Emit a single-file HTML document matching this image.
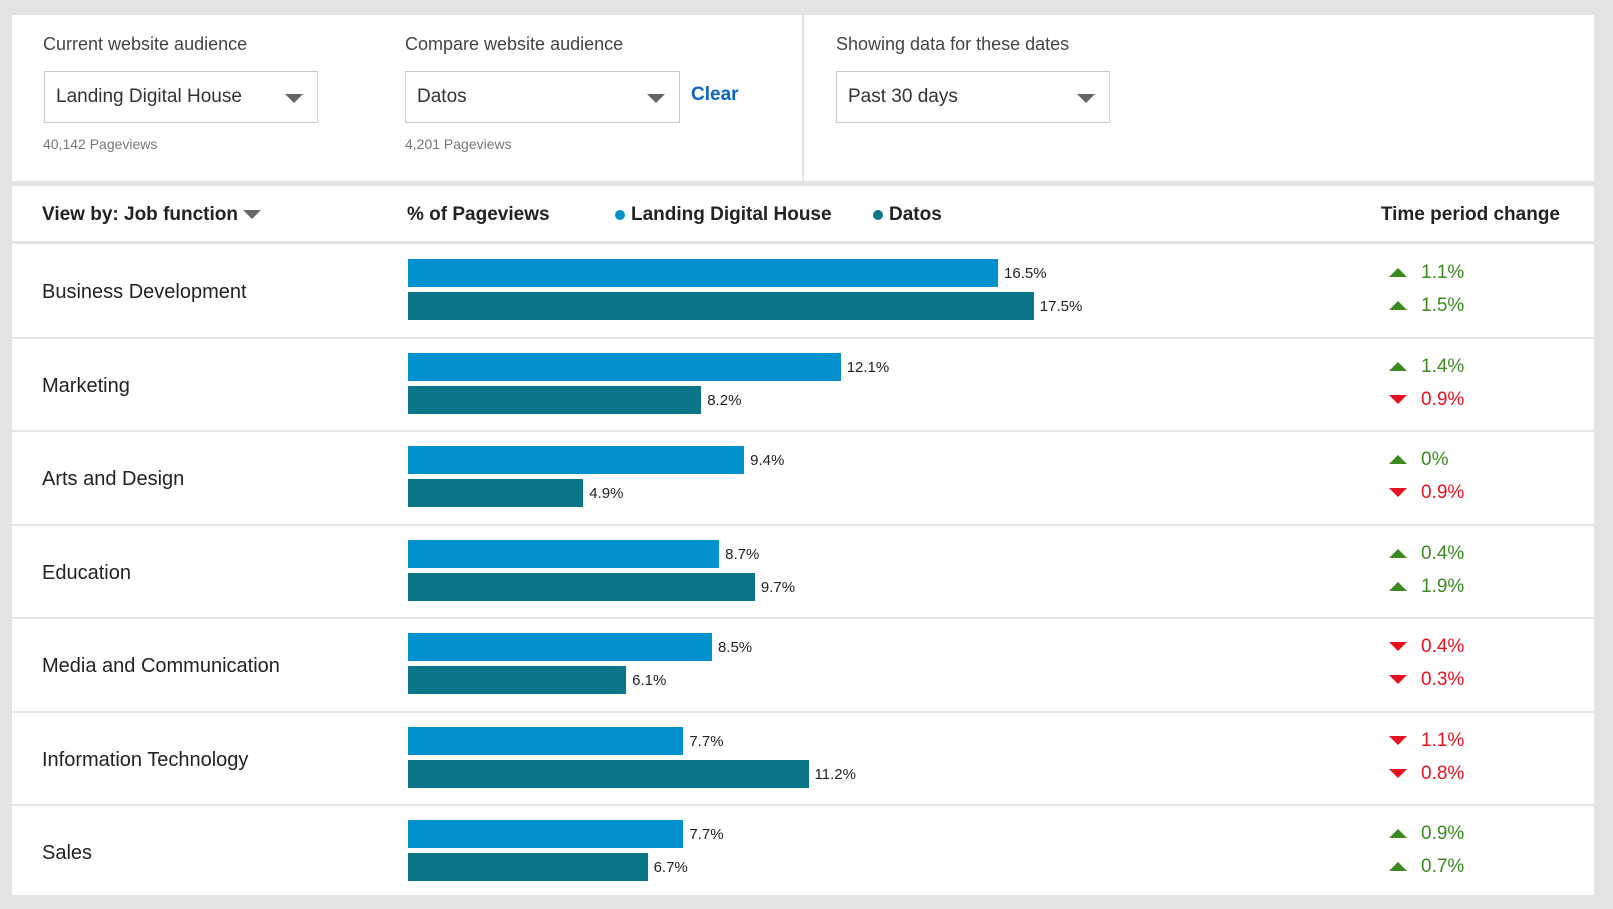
<!DOCTYPE html>
<html><head><meta charset="utf-8">
<style>
body{margin:0;width:1613px;height:909px;background:#e3e3e3;font-family:"Liberation Sans",sans-serif;position:relative;overflow:hidden;color:#222}
.p{position:absolute;background:#fff}
.a{position:absolute;white-space:nowrap}
.dd{position:absolute;border:1px solid #c8c8c8;background:#fff;height:52px;box-sizing:border-box}
.dd span{position:absolute;left:11px;top:14px;font-size:19px;color:#333}
.tri{position:absolute;width:0;height:0;border-left:9px solid transparent;border-right:9px solid transparent;border-top:9px solid #666}
.lbl{font-size:18px;color:#444}
.pv{font-size:14px;color:#777}
</style></head><body>
<div class="p" style="left:12px;top:15px;width:1582px;height:166px"></div>
<div class="a" style="left:802px;top:15px;width:2px;height:166px;background:#e3e3e3"></div>
<div class="a lbl" style="left:43px;top:34px">Current website audience</div>
<div class="dd" style="left:44px;top:71px;width:274px"><span>Landing Digital House</span><div class="tri" style="left:240px;top:22px"></div></div>
<div class="a pv" style="left:43px;top:136px">40,142 Pageviews</div>
<div class="a lbl" style="left:405px;top:34px">Compare website audience</div>
<div class="dd" style="left:405px;top:71px;width:275px"><span>Datos</span><div class="tri" style="left:241px;top:22px"></div></div>
<div class="a" style="left:691px;top:84px;font-size:19px;color:#0a66c2;font-weight:bold">Clear</div>
<div class="a pv" style="left:405px;top:136px">4,201 Pageviews</div>
<div class="a lbl" style="left:836px;top:34px">Showing data for these dates</div>
<div class="dd" style="left:836px;top:71px;width:274px"><span>Past 30 days</span><div class="tri" style="left:240px;top:22px"></div></div>

<div class="p" style="left:12px;top:186px;width:1582px;height:709px"></div>
<div class="a" style="left:42px;top:204px;font-size:19px;font-weight:bold;color:#222">View by: Job function <span style="display:inline-block;width:0;height:0;border-left:9px solid transparent;border-right:9px solid transparent;border-top:9px solid #666;vertical-align:middle"></span></div>
<div class="a" style="left:407px;top:204px;font-size:19px;font-weight:bold">% of Pageviews</div>
<div class="a" style="left:615px;top:204px;font-size:19px;font-weight:bold"><span style="display:inline-block;width:10px;height:10px;border-radius:5px;background:#0391cd;margin-right:6px;vertical-align:middle"></span>Landing Digital House</div>
<div class="a" style="left:873px;top:204px;font-size:19px;font-weight:bold"><span style="display:inline-block;width:10px;height:10px;border-radius:5px;background:#0b7689;margin-right:6px;vertical-align:middle"></span>Datos</div>
<div class="a" style="right:53px;top:204px;font-size:19px;font-weight:bold">Time period change</div>
<div class="a" style="left:12px;top:241px;width:1582px;height:3px;background:#e3e3e3"></div>
<div id="rows"></div>
<script>
const categories=["Business Development","Marketing","Arts and Design","Education","Media and Communication","Information Technology","Sales"];
const ldhValues=[16.5,12.1,9.4,8.7,8.5,7.7,7.7];
const datosValues=[17.5,8.2,4.9,9.7,6.1,11.2,6.7];
const ldhChange=[1.1,1.4,0,0.4,-0.4,-1.1,0.9];
const datosChange=[1.5,-0.9,-0.9,1.9,-0.3,-0.8,0.7];
const X0=408,PX=35.76,ROW0=244,RH=93.5;
const xs=v=>v*PX;
const root=document.getElementById('rows');
function add(html){const t=document.createElement('div');t.innerHTML=html;const e=t.firstChild;root.appendChild(e);return e;}
categories.forEach((c,i)=>{
  const y=ROW0+i*RH;
  let e=add(`<div class="a" style="left:42px;top:${y+37}px;font-size:20px;color:#222">${c}</div>`);
  
  
  if(i>0){e=add(`<div class="a" style="left:12px;top:${y-1}px;width:1582px;height:2px;background:#e6e6e6"></div>`);
  
  }
  [[ldhValues[i],'#0391cd',15,ldhChange[i]],[datosValues[i],'#0b7689',48,datosChange[i]]].forEach((s,k)=>{
    const w=xs(s[0]);
    let b=add(`<div class="a" style="left:${X0}px;top:${y+s[2]}px;width:${w}px;height:28px;background:${s[1]}"></div>`);
    
    
    let l=add(`<div class="a" style="left:${X0+w+6}px;top:${y+s[2]+6}px;font-size:15px;color:#222">${s[0]}%</div>`);
    
    
    const up=s[3]>=0,col=up?'#3a8a1f':'#e5121e';
    const tri=up?`border-bottom:9px solid ${col}`:`border-top:9px solid ${col}`;
    let ch=add(`<div class="a" style="left:1389px;top:${y+s[2]+3}px;font-size:19px;color:${col}"><span style="display:inline-block;width:0;height:0;border-left:9px solid transparent;border-right:9px solid transparent;${tri};vertical-align:middle;margin-right:14px"></span>${Math.abs(s[3])}%</div>`);
    
    
  });
});
</script>
</body></html>
